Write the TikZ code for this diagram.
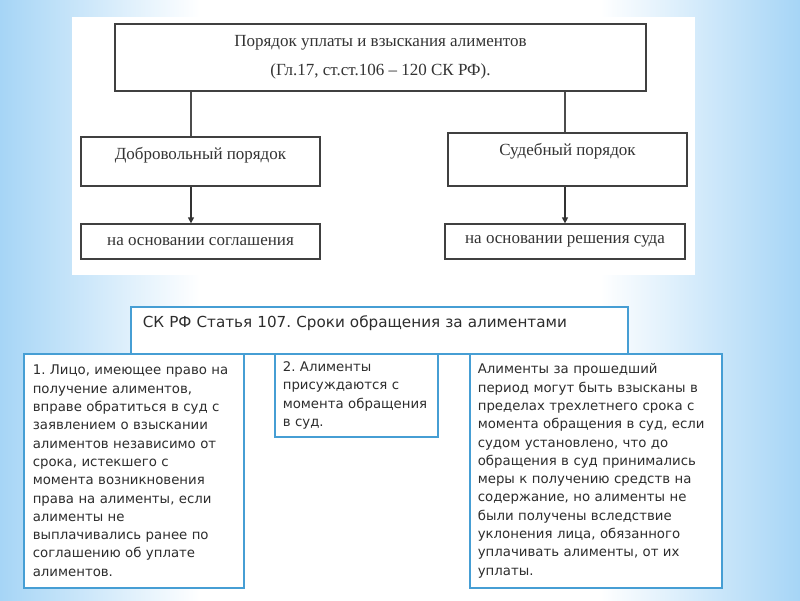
\documentclass[tikz,border=0pt]{standalone}
\usepackage{fontspec}
\setmainfont{Liberation Serif}
\newfontfamily\notefont{DejaVu Sans}
\usepackage{tikz}
\usetikzlibrary{shapes.geometric, arrows, arrows.meta}
\definecolor{bgblue}{RGB}{166,213,246}
\definecolor{boxblue}{RGB}{70,158,212}
\definecolor{notegray}{RGB}{45,45,45}
\tikzstyle{scheme} = [rectangle, draw=black!75, line width=1.3pt, fill=white, align=center, text=black!80, inner sep=0pt, font=\fontsize{17}{29}\selectfont]
\tikzstyle{note} = [rectangle, draw=boxblue, line width=1.6pt, fill=white, align=left, anchor=north west, inner ysep=4pt, text=notegray, font=\notefont\frenchspacing\fontsize{13.3}{18.3}\selectfont]
\tikzstyle{arrow} = [line width=1.3pt, draw=black!80, -{Triangle[length=6pt, width=6pt]}]
\tikzstyle{line} = [line width=1.1pt, draw=black!70]

\begin{document}
\begin{tikzpicture}[x=1pt, y=-1pt, node distance=80pt]
% background of the slide
\fill[white] (0,0) rectangle (800,600);
\shade[left color=bgblue, right color=white] (0,0) rectangle (200,600);
\shade[left color=white, right color=bgblue] (600,0) rectangle (800,600);
\useasboundingbox (0,0) rectangle (800,600);
\fill[white] (72,17) rectangle (695,275);

% scheme
\node (main) [scheme, minimum width=531pt, minimum height=67pt] at (380.5,57.5) {Порядок уплаты и взыскания алиментов\\(Гл.17, ст.ст.106 -- 120 СК РФ).};
\node (vol) [scheme, minimum width=239pt, text height=22pt, text depth=27pt] at (200.5,161.5) {Добровольный порядок};
\node (jud) [scheme, minimum width=239pt, text height=22pt, text depth=31pt] at (567.5,159.5) {Судебный порядок};
\node (agr) [scheme, below of=vol, minimum width=239pt, minimum height=35pt] {на основании соглашения};
\node (dec) [scheme, below of=jud, yshift=-2pt, xshift=-2.5pt, minimum width=240pt, minimum height=35pt] {на основании решения суда};

\draw [line] ([xshift=-9.5pt]vol.north) -- ([xshift=-9.5pt]vol.north |- main.south);
\draw [line] ([xshift=-2.5pt]jud.north) -- ([xshift=-2.5pt]jud.north |- main.south);
\draw [arrow] ([xshift=-9.5pt]vol.south) -- ([xshift=-9.5pt]agr.north);
\draw [arrow] ([xshift=-2.5pt]jud.south) -- (dec.north);

% article 107
\node (art) [note, inner xsep=12pt, text width=473pt, text height=17pt, text depth=22pt, font=\notefont\frenchspacing\fontsize{15.2}{18.3}\selectfont] at (130,306) {СК РФ Статья 107. Сроки обращения за алиментами};
\node (note1) [note, inner xsep=9pt, text width=202pt, minimum height=234pt] at (23,353) {1. Лицо, имеющее право на\\получение алиментов,\\вправе обратиться в суд с\\заявлением о взыскании\\алиментов независимо от\\срока, истекшего с\\момента возникновения\\права на алименты, если\\алименты не\\выплачивались ранее по\\соглашению об уплате\\алиментов.};
\node (note2) [note, inner xsep=8pt, text width=147pt, minimum height=83pt] at (274,353) {2. Алименты\\присуждаются с\\момента обращения\\в суд.};
\node (note3) [note, inner xsep=8pt, text width=236pt, minimum height=234pt] at (469,353) {Алименты за прошедший\\период могут быть взысканы в\\пределах трехлетнего срока с\\момента обращения в суд, если\\судом установлено, что до\\обращения в суд принимались\\меры к получению средств на\\содержание, но алименты не\\были получены вследствие\\уклонения лица, обязанного\\уплачивать алименты, от их\\уплаты.};
\end{tikzpicture}
\end{document}
